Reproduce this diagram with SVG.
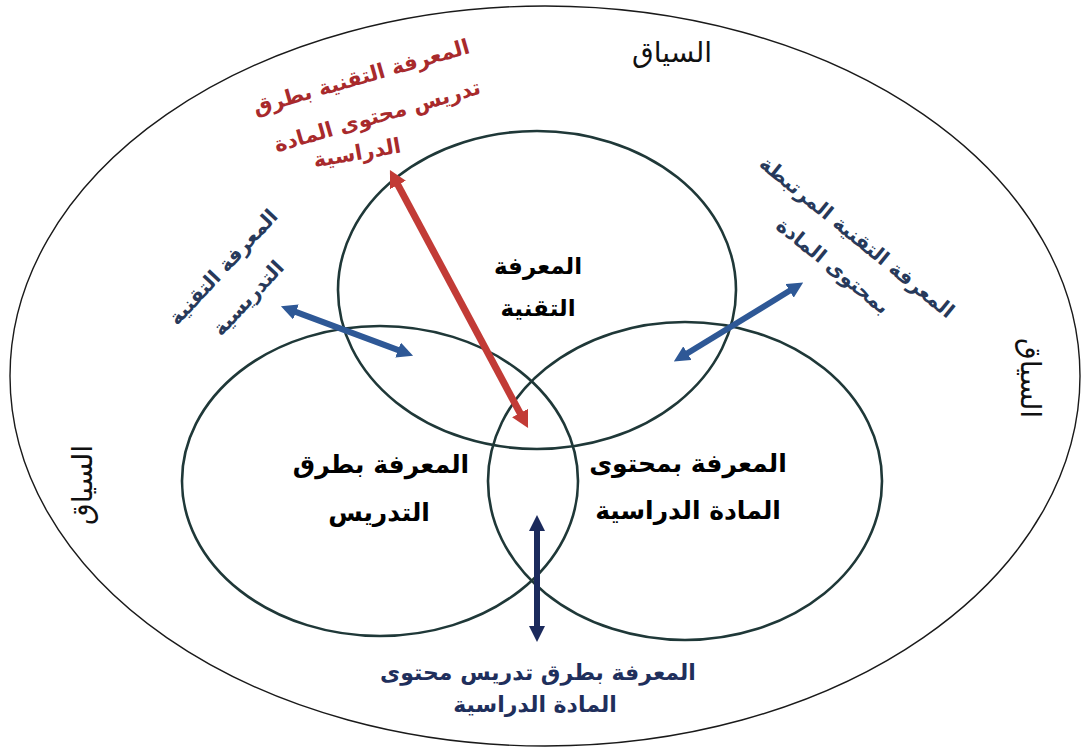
<svg xmlns="http://www.w3.org/2000/svg" width="1082" height="749" viewBox="0 0 1082 749">
  <style>
    .outer { fill: none; stroke: #1a1a1a; stroke-width: 1.4; }
    .venn { fill: none; stroke: #1f3838; stroke-width: 2.6; }
    .ctx { font-family: "DejaVu Sans", "Liberation Sans", sans-serif; font-size: 28px; fill: #111; text-anchor: middle; }
    .main { font-family: "DejaVu Sans", "Liberation Sans", sans-serif; font-weight: bold; fill: #000; text-anchor: middle; }
    .red { font-family: "DejaVu Sans", "Liberation Sans", sans-serif; font-weight: bold; font-size: 21px; fill: #a82a2c; text-anchor: middle; }
    .blue { font-family: "DejaVu Sans", "Liberation Sans", sans-serif; font-weight: bold; font-size: 20px; fill: #27395a; text-anchor: middle; }
    .navy { font-family: "DejaVu Sans", "Liberation Sans", sans-serif; font-weight: bold; font-size: 22px; fill: #1f2f5c; text-anchor: middle; }
    .ar-red { stroke: #c23b36; stroke-width: 7; }
    .ar-blue { stroke: #2e5896; stroke-width: 6; }
    .ar-navy { stroke: #1b2a5c; stroke-width: 6; }
  </style>
  <defs>
    <marker id="mRed" viewBox="0 -9 17 18" refX="1" refY="0" markerWidth="17" markerHeight="18" markerUnits="userSpaceOnUse" orient="auto-start-reverse">
      <path d="M0,-9 L17,0 L0,9 z" fill="#c23b36"/>
    </marker>
    <marker id="mBlue" viewBox="0 -8 16 16" refX="1" refY="0" markerWidth="16" markerHeight="16" markerUnits="userSpaceOnUse" orient="auto-start-reverse">
      <path d="M0,-8 L16,0 L0,8 z" fill="#2e5896"/>
    </marker>
    <marker id="mNavy" viewBox="0 -8 16 16" refX="1" refY="0" markerWidth="16" markerHeight="16" markerUnits="userSpaceOnUse" orient="auto-start-reverse">
      <path d="M0,-8 L16,0 L0,8 z" fill="#1b2a5c"/>
    </marker>
  </defs>

  <rect x="0" y="0" width="1082" height="749" fill="#ffffff"/>

  <g id="context">
    <ellipse class="outer" cx="545" cy="376" rx="535" ry="370"/>
    <text class="ctx" x="672" y="62">السياق</text>
    <text class="ctx" transform="translate(82 485) rotate(-90)" x="0" y="10">السياق</text>
    <text class="ctx" transform="translate(1031 378) rotate(90)" x="0" y="10">السياق</text>
  </g>

  <g id="node-tk">
    <ellipse class="venn" cx="537" cy="290" rx="199" ry="159"/>
    <text class="main" font-size="23" x="538" y="274">المعرفة</text>
    <text class="main" font-size="23" x="538" y="316">التقنية</text>
  </g>

  <g id="node-pk">
    <ellipse class="venn" cx="380" cy="481" rx="198" ry="155"/>
    <text class="main" font-size="25" x="381" y="473">المعرفة بطرق</text>
    <text class="main" font-size="25" x="379" y="521">التدريس</text>
  </g>

  <g id="node-ck">
    <ellipse class="venn" cx="685" cy="481" rx="197" ry="159"/>
    <text class="main" font-size="25" x="688" y="472">المعرفة بمحتوى</text>
    <text class="main" font-size="25" x="688" y="519">المادة الدراسية</text>
  </g>

  <g id="connectors">
    <line class="ar-red" x1="397.5" y1="184.1" x2="520.5" y2="413.9" marker-start="url(#mRed)" marker-end="url(#mRed)"/>
    <line class="ar-blue" x1="295" y1="311.6" x2="399" y2="350.4" marker-start="url(#mBlue)" marker-end="url(#mBlue)"/>
    <line class="ar-blue" x1="790.4" y1="290.3" x2="686.6" y2="353.7" marker-start="url(#mBlue)" marker-end="url(#mBlue)"/>
    <line class="ar-navy" x1="537" y1="530" x2="537" y2="627" marker-start="url(#mNavy)" marker-end="url(#mNavy)"/>
  </g>

  <g id="label-tpck">
    <text class="red" transform="translate(361 76) rotate(-16)" y="8">المعرفة التقنية بطرق</text>
    <text class="red" transform="translate(377 115) rotate(-16)" y="8">تدريس محتوى المادة</text>
    <text class="red" transform="translate(357 152) rotate(-10)" y="8">الدراسية</text>
  </g>

  <g id="label-tpk">
    <text class="blue" transform="translate(223 267) rotate(-47)" y="7">المعرفة التقنية</text>
    <text class="blue" transform="translate(248 298) rotate(-47)" y="7">التدريسية</text>
  </g>

  <g id="label-tck">
    <text class="blue" transform="translate(857 237) rotate(39)" y="7">المعرفة التقنية المرتبطة</text>
    <text class="blue" transform="translate(833 266) rotate(39)" y="7">بمحتوى المادة</text>
  </g>

  <g id="label-pck">
    <text class="navy" x="538" y="680">المعرفة بطرق تدريس محتوى</text>
    <text class="navy" x="535" y="712">المادة الدراسية</text>
  </g>
</svg>
